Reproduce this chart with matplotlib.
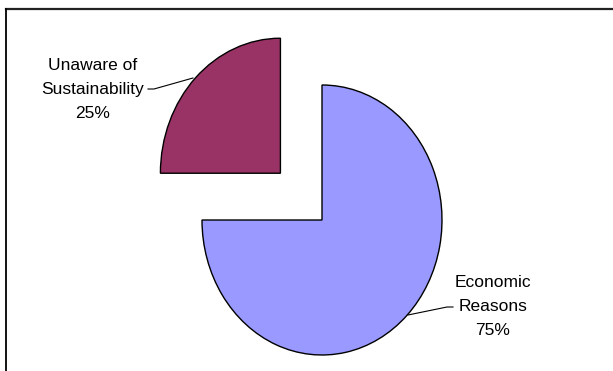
import matplotlib
matplotlib.use("Agg")
import matplotlib.pyplot as plt
import numpy as np
from matplotlib.lines import Line2D

categories = ["Unaware of\nSustainability", "Economic\nReasons"]
values = [25, 75]
colors = ["#993366", "#9999FF"]
explode = [0.49, 0.0]

W, H = 613, 371
fig = plt.figure(figsize=(W / 100, H / 100), dpi=100)
ax = fig.add_axes([0, 0, 1, 1])

wedges, _ = ax.pie(values, colors=colors, explode=explode, startangle=90,
                   counterclock=True,
                   wedgeprops=dict(edgecolor="black", linewidth=1.0))

# elliptical pie: x unit = 120 px, y unit = 135 px, centre at (322, 220) px
cx, cy, rx, ry = 322, 220, 120, 135
ax.set_aspect("auto")
ax.set_xlim(-cx / rx, (W - cx) / rx)
ax.set_ylim(-(H - cy) / ry, cy / ry)
ax.axis("off")

def px(x, y):
    return ((x - cx) / rx, (cy - y) / ry)

font = dict(family="Liberation Sans", fontsize=12.5, ha="center", va="center",
            linespacing=1.74)

# label texts with percentages
texts = [f"{c}\n{v}%" for c, v in zip(categories, values)]

# Unaware label
ax.text(*px(93, 89.5), texts[0], **font)
ax.plot(*zip(px(148, 89), px(154, 89), px(193, 78)), color="black", lw=0.8)

# Economic label
ax.text(*px(493, 306.5), texts[1], **font)
ax.plot(*zip(px(408, 315), px(447, 307), px(453, 307)), color="black", lw=0.8)

# frame (top and left edges)
fig.add_artist(Line2D([6 / W, 1], [1 - 8.5 / H, 1 - 8.5 / H], color="#222222",
                      lw=1.6, transform=fig.transFigure))
fig.add_artist(Line2D([6 / W, 6 / W], [0, 1 - 8.5 / H], color="black",
                      lw=1.3, transform=fig.transFigure))

fig.savefig("out.png", dpi=100)
